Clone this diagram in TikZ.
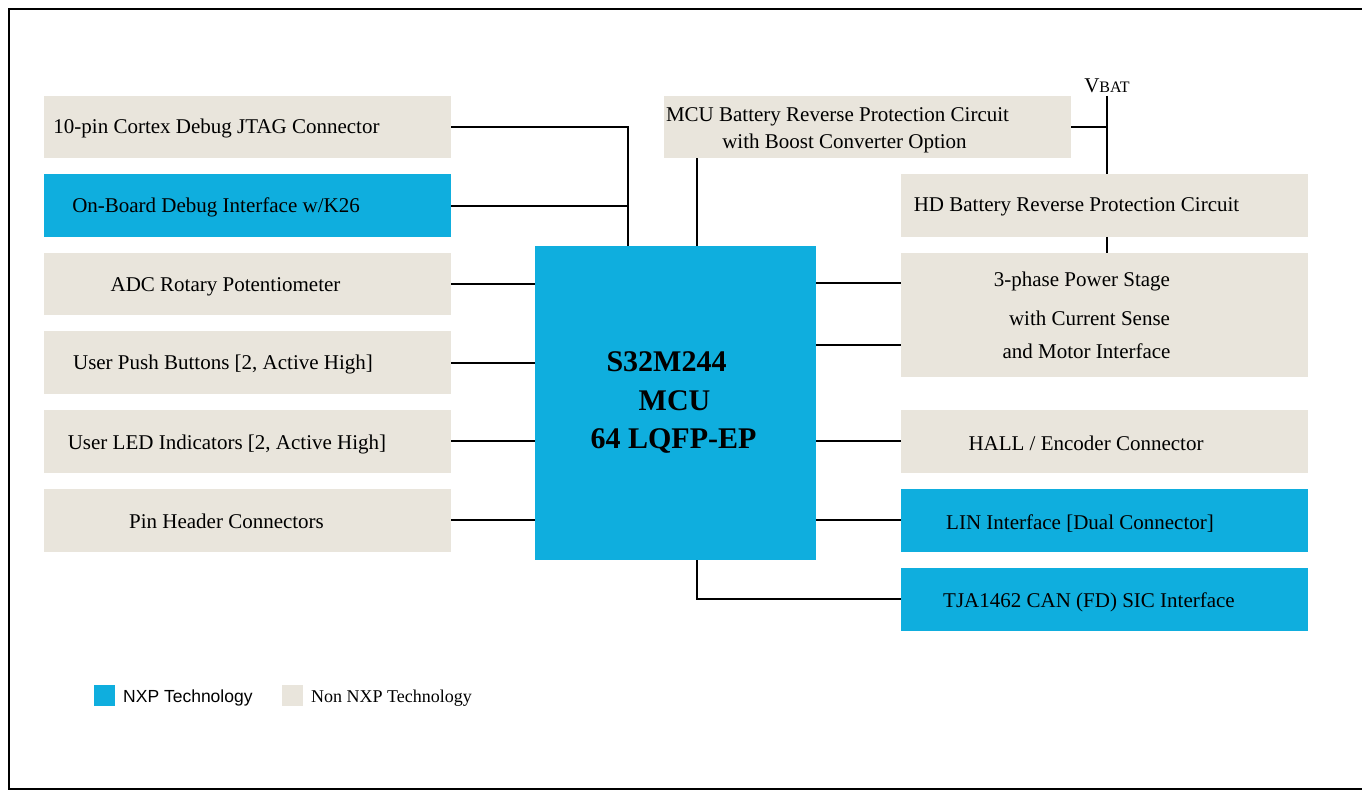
\documentclass[tikz,border=0pt]{standalone}
\usepackage{fontspec}
\setmainfont{Liberation Serif}
\newfontfamily\legsans{Liberation Sans}
\definecolor{nxpblue}{RGB}{15,174,222}
\definecolor{nonbeige}{RGB}{233,229,220}
\newcommand\diafont{\fontsize{21}{25}\selectfont}
\newcommand\mcufont{\fontsize{30}{36}\selectfont\bfseries}
\tikzset{
  boxbase/.style={inner sep=0pt, outer sep=0pt, minimum width=407pt, minimum height=62.5pt, anchor=north west},
  nxpbox/.style={boxbase, fill=nxpblue},
  nonbox/.style={boxbase, fill=nonbeige},
  lbl/.style={anchor=base, inner sep=0pt, outer sep=0pt, font=\diafont},
  wire/.style={line width=2pt, black},
}
\begin{document}
\begin{tikzpicture}[x=1pt,y=-1pt]
\useasboundingbox (0,0) rectangle (1362,791);
\draw[line width=2.8pt] (9,9) rectangle (1385,789);

% coordinates for wire routing
\coordinate (jx) at (628,0);
\coordinate (bx) at (697,0);
\coordinate (vtop) at (1106.5,96);
\coordinate (r1) at (0,283.3);
\coordinate (r2) at (0,345.3);

% boxes
\node[nonbox] (b1) at (44,96) {};
\node[nxpbox] (b2) at (44,174.5) {};
\node[nonbox] (b3) at (44,253) {};
\node[nonbox] (b4) at (44,331.5) {};
\node[nonbox] (b5) at (44,410) {};
\node[nonbox] (b6) at (44,489) {};
\node[nonbox] (bat) at (664,96) {};
\node[nonbox] (hd) at (901,174.5) {};
\node[nonbox, minimum height=123.5pt] (ps) at (901,253) {};
\node[nonbox] (hall) at (901,410) {};
\node[nxpbox] (lin) at (901,489) {};
\node[nxpbox] (can) at (901,568) {};
\node[nxpbox, minimum width=281pt, minimum height=314pt] (mcu) at (535,246) {};

% wires
\draw[wire] (b1.east) -- (b1.east -| jx) -- (mcu.north -| jx);
\draw[wire] (b2.east) -- (b2.east -| jx);
\draw[wire] (bat.south -| bx) -- (mcu.north -| bx);
\draw[wire] (vtop) -- (hd.north -| vtop);
\draw[wire] (bat.east) -- (bat.east -| vtop);
\draw[wire] (hd.south -| vtop) -- (ps.north -| vtop);
\draw[wire] (b3.east) -- (b3.east -| mcu.west);
\draw[wire] (b4.east) -- (b4.east -| mcu.west);
\draw[wire] (b5.east) -- (b5.east -| mcu.west);
\draw[wire] (b6.east) -- (b6.east -| mcu.west);
\draw[wire] (mcu.east |- r1) -- (ps.west |- r1);
\draw[wire] (mcu.east |- r2) -- (ps.west |- r2);
\draw[wire] (mcu.east |- hall.west) -- (hall.west);
\draw[wire] (mcu.east |- lin.west) -- (lin.west);
\draw[wire] (mcu.south -| bx) |- (can.west);

% texts
\node[lbl] (t1) at (216.5,134) {10-pin Cortex Debug JTAG Connector};
\node[lbl] (t2) at (216,212.5) {On-Board Debug Interface w/K26};
\node[lbl] (t3) at (225.5,291.7) {ADC Rotary Potentiometer};
\node[lbl] (t4) at (223,370) {User Push Buttons [2, Active High]};
\node[lbl] (t5) at (227,449) {User LED Indicators [2, Active High]};
\node[lbl] (t6) at (226.5,528) {Pin Header Connectors};

\node[lbl] (tbat1) at (837.5,121.7) {MCU Battery Reverse Protection Circuit};
\node[lbl] (tbat2) at (844.5,148.3) {with Boost Converter Option};
\node[lbl] (thd) at (1076.5,211.7) {HD Battery Reverse Protection Circuit};
\node[lbl, anchor=base east] (tps1) at (1170,286.7) {3-phase Power Stage};
\node[lbl, anchor=base east] (tps2) at (1170,325.7) {with Current Sense};
\node[lbl, anchor=base east] (tps3) at (1170.5,358.3) {and Motor Interface};
\node[lbl] (thall) at (1086,450.7) {HALL / Encoder Connector};
\node[lbl] (tlin) at (1080,529) {LIN Interface [Dual Connector]};
\node[lbl] (tcan) at (1089,607.7) {TJA1462 CAN (FD) SIC Interface};

\node[lbl, font=\mcufont] (m1) at (666.5,371.7) {S32M244};
\node[lbl, font=\mcufont] (m2) at (674.5,410) {MCU};
\node[lbl, font=\mcufont] (m3) at (673.5,448) {64 LQFP-EP};

\node[lbl] (vbat) at (1107,92.3) {V{\fontsize{16}{18}\selectfont BAT}};

% legend
\node[inner sep=0pt, minimum size=21pt, fill=nxpblue, anchor=north west] (lg1) at (94,685) {};
\node[anchor=base west, inner sep=0pt, font=\legsans\fontsize{17.5}{20}\selectfont] (lt1) at (123,702.7) {NXP Technology};
\node[inner sep=0pt, minimum size=21pt, fill=nonbeige, anchor=north west] (lg2) at (282,685) {};
\node[anchor=base west, inner sep=0pt, font=\fontsize{18}{21}\selectfont] (lt2) at (311,702.7) {Non NXP Technology};
\end{tikzpicture}
\end{document}
